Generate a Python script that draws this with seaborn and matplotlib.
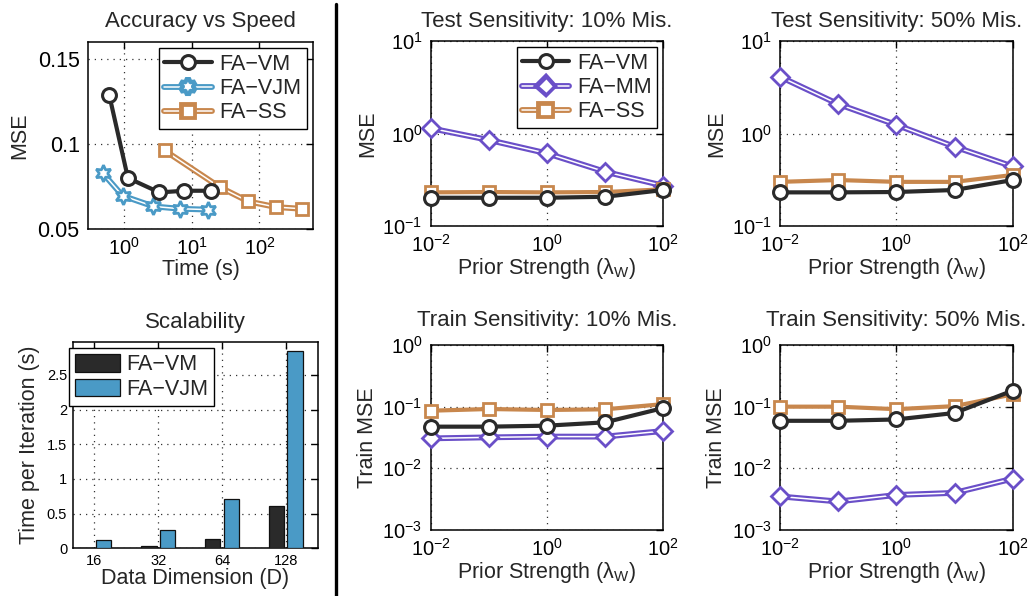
import numpy as np
import pandas as pd
import matplotlib
matplotlib.use("Agg")
import matplotlib.pyplot as plt
import matplotlib.patheffects as pe
from matplotlib.lines import Line2D
from matplotlib.ticker import FixedLocator, NullLocator
import seaborn as sns

# ---------------- data ----------------
# Accuracy vs Speed
time_vm = [0.60, 1.13, 3.3, 7.6, 19.5]
mse_vm = [0.1286, 0.0800, 0.0715, 0.0725, 0.0725]
time_vjm = [0.48, 0.94, 2.7, 6.7, 17.6]
mse_vjm = [0.0829, 0.0696, 0.0633, 0.0619, 0.0614]
time_ss = [3.94, 26.2, 68.6, 176.0, 422.0]
mse_ss = [0.0962, 0.0745, 0.0662, 0.0629, 0.0619]

# Scalability
dims = ["16", "32", "64", "128"]
iter_vm = [0.01, 0.035, 0.13, 0.615]
iter_vjm = [0.12, 0.27, 0.716, 2.846]

# Sensitivity
lam = [0.01, 0.1, 1.0, 10.0, 100.0]
test10_vm = [0.202, 0.202, 0.202, 0.207, 0.245]
test10_mm = [1.14, 0.85, 0.61, 0.386, 0.273]
test10_ss = [0.231, 0.233, 0.231, 0.233, 0.249]
test50_vm = [0.231, 0.231, 0.233, 0.245, 0.314]
test50_mm = [4.11, 2.08, 1.24, 0.72, 0.44]
test50_ss = [0.300, 0.314, 0.300, 0.300, 0.356]
train10_vm = [0.0474, 0.0474, 0.0492, 0.0557, 0.095]
train10_mm = [0.0306, 0.0318, 0.0327, 0.0327, 0.0403]
train10_ss = [0.086, 0.0916, 0.0884, 0.0906, 0.110]
train50_vm = [0.059, 0.059, 0.062, 0.079, 0.182]
train50_mm = [0.0035, 0.0029, 0.0037, 0.0040, 0.0068]
train50_ss = [0.100, 0.100, 0.091, 0.102, 0.158]

C_VM = "#2a2a2a"
C_VJM = "#4a9ac6"
C_SS = "#c8874d"
C_MM = "#6a4fc8"

STY = {
    "FA\u2212VM": dict(color=C_VM, marker="o", ms=10, mew=2.2, lw=3.0, core=False),
    "FA\u2212VJM": dict(color=C_VJM, marker=(6, 1, 0), ms=12, mew=2.0, lw=3.0, core=True),
    "FA\u2212SS": dict(color=C_SS, marker="s", ms=9, mew=2.0, lw=3.0, core=True),
    "FA\u2212MM": dict(color=C_MM, marker="D", ms=9, mew=2.0, lw=3.0, core=True),
}

sns.set_theme(style="white")
plt.rcParams["font.family"] = ["Liberation Sans", "DejaVu Sans"]
plt.rcParams["mathtext.fontset"] = "custom"
plt.rcParams["mathtext.rm"] = "Liberation Sans"
plt.rcParams["mathtext.it"] = "Liberation Sans:italic"
plt.rcParams["mathtext.bf"] = "Liberation Sans:bold"
plt.rcParams["axes.unicode_minus"] = True

W, H = 1032, 596
fig = plt.figure(figsize=(W / 100, H / 100), dpi=100)


def add_ax(l, r, t, b):
    return fig.add_axes([l / W, 1 - b / H, (r - l) / W, (b - t) / H])


def style_ax(ax, tick_fs=14.5):
    for s in ax.spines.values():
        s.set_color("black")
        s.set_linewidth(1.1)
        s.set_visible(True)
    ax.tick_params(which="both", direction="in", top=True, right=True,
                   labelsize=tick_fs, colors="black", length=5, width=1.0, pad=6)
    ax.grid(True, which="major", linestyle=(0, (1, 4)), color="#333333", linewidth=0.9)
    ax.set_facecolor("white")


def draw(ax, x, y, name, core_on=True):
    st = STY[name]
    core = st["core"] and core_on
    if core:
        sns.lineplot(x=x, y=y, ax=ax, color="white", lw=1.1, sort=False,
                     path_effects=[pe.Stroke(linewidth=st["lw"] + 1.2, foreground=st["color"]), pe.Normal()],
                     legend=False, zorder=3)
    sns.lineplot(x=x, y=y, ax=ax, color=st["color"], lw=0 if core else st["lw"], sort=False,
                 marker=st["marker"], markersize=st["ms"], markerfacecolor="white",
                 markeredgecolor=st["color"], markeredgewidth=st["mew"], legend=False, zorder=4)


def handle(name):
    st = STY[name]
    if st["core"]:
        return Line2D([], [], color="white", lw=1.1, marker=st["marker"], ms=st["ms"],
                      mfc="white", mec=st["color"], mew=st["mew"],
                      path_effects=[pe.Stroke(linewidth=st["lw"] + 1.2, foreground=st["color"]), pe.Normal()])
    return Line2D([], [], color=st["color"], lw=st["lw"], marker=st["marker"], ms=st["ms"],
                  mfc="white", mec=st["color"], mew=st["mew"])


def legend(ax, names, fs=15.5):
    leg = ax.legend([handle(n) for n in names], names, loc="upper right", fontsize=fs,
                    frameon=True, fancybox=False, framealpha=1, edgecolor="black",
                    handlelength=2.2, borderpad=0.25, labelspacing=0.15, handletextpad=0.35,
                    borderaxespad=0.3)
    leg.get_frame().set_linewidth(1.0)


LBL = 15.5
TTL = 16

# ---------------- Accuracy vs Speed ----------------
ax = add_ax(88, 313, 42, 229)
draw(ax, time_ss, mse_ss, "FA\u2212SS")
draw(ax, time_vjm, mse_vjm, "FA\u2212VJM")
draw(ax, time_vm, mse_vm, "FA\u2212VM")
ax.set_xscale("log")
ax.set_xlim(0.29, 620)
ax.set_ylim(0.05, 0.16)
ax.xaxis.set_major_locator(FixedLocator([1, 10, 100]))
ax.xaxis.set_minor_locator(NullLocator())
ax.yaxis.set_major_locator(FixedLocator([0.05, 0.1, 0.15]))
ax.set_yticklabels(["0.05", "0.1", "0.15"])
style_ax(ax)
ax.tick_params(axis="y", labelsize=15.5)
ax.set_xlabel("Time (s)", fontsize=LBL, labelpad=0)
ax.set_ylabel("MSE", fontsize=LBL, labelpad=5)
ax.set_title("Accuracy vs Speed", fontsize=TTL, pad=11)
legend(ax, ["FA\u2212VM", "FA\u2212VJM", "FA\u2212SS"])
for line in ax.get_lines():
    line.set_clip_on(False)

# ---------------- Scalability ----------------
ax = add_ax(72.7, 318.3, 341.7, 548.3)
df = pd.DataFrame({
    "D": dims * 2,
    "time": iter_vm + iter_vjm,
    "method": ["FA\u2212VM"] * len(dims) + ["FA\u2212VJM"] * len(dims),
})
sns.barplot(data=df, x="D", y="time", hue="method", palette=[C_VM, C_VJM],
            width=0.58, gap=0.17, saturation=1, edgecolor="#111111", linewidth=0.9,
            ax=ax, zorder=3)
ax.set_xlim(-0.34, 3.51)
ax.set_ylim(0, 2.98)
ax.yaxis.set_major_locator(FixedLocator([0, 0.5, 1, 1.5, 2, 2.5]))
ax.set_yticklabels(["0", "0.5", "1", "1.5", "2", "2.5"])
style_ax(ax, tick_fs=10.5)
ax.tick_params(axis="both", pad=4)
ax.set_axisbelow(True)
ax.set_xlabel("Data Dimension (D)", fontsize=LBL, labelpad=0)
ax.set_ylabel("Time per Iteration (s)", fontsize=LBL, labelpad=5)
ax.set_title("Scalability", fontsize=TTL, pad=10)
h, l = ax.get_legend_handles_labels()
leg = ax.legend(h, l, loc="upper left", fontsize=15.5, frameon=True, fancybox=False,
                framealpha=1, edgecolor="black", handlelength=2.1, handleheight=0.85,
                borderpad=0.3, labelspacing=0.15, handletextpad=0.25,
                borderaxespad=0, bbox_to_anchor=(-0.016, 0.97))
leg.get_frame().set_linewidth(1.0)

# ---------------- Sensitivity panels ----------------
XL = r"Prior Strength ($\mathrm{\lambda_W}$)"
panels = [
    ((430.7, 663.3, 41, 226), "Test Sensitivity: 10% Mis.", "MSE", (0.1, 10),
     test10_vm, test10_mm, test10_ss, True),
    ((780, 1012.7, 41, 226), "Test Sensitivity: 50% Mis.", "MSE", (0.1, 10),
     test50_vm, test50_mm, test50_ss, False),
    ((430.7, 663.3, 345, 530), "Train Sensitivity: 10% Mis.", "Train MSE", (1e-3, 1),
     train10_vm, train10_mm, train10_ss, False),
    ((780, 1012.7, 345, 530), "Train Sensitivity: 50% Mis.", "Train MSE", (1e-3, 1),
     train50_vm, train50_mm, train50_ss, False),
]
for (l, r, t, b), title, ylab, ylim, vm, mm, ss, leg_on in panels:
    ax = add_ax(l, r, t, b)
    draw(ax, lam, mm, "FA\u2212MM")
    draw(ax, lam, ss, "FA\u2212SS", core_on=False)
    draw(ax, lam, vm, "FA\u2212VM")
    ax.set_xscale("log")
    ax.set_yscale("log")
    ax.set_xlim(0.01, 100)
    ax.set_ylim(*ylim)
    ax.xaxis.set_major_locator(FixedLocator([0.01, 1, 100]))
    if ylim[0] < 0.01:
        ax.yaxis.set_major_locator(FixedLocator([1e-3, 1e-2, 1e-1, 1]))
    else:
        ax.yaxis.set_major_locator(FixedLocator([0.1, 1, 10]))
    ax.xaxis.set_minor_locator(NullLocator())
    ax.yaxis.set_minor_locator(NullLocator())
    for line in ax.get_lines():
        line.set_clip_on(False)
    style_ax(ax)
    ax.set_xlabel(XL, fontsize=LBL, labelpad=0)
    ax.set_ylabel(ylab, fontsize=LBL, labelpad=3)
    ax.set_title(title, fontsize=TTL, pad=10 if ylim[0] > 0.01 else 14)
    if leg_on:
        legend(ax, ["FA\u2212VM", "FA\u2212MM", "FA\u2212SS"])

fig.add_artist(Line2D([335.7 / W, 335.7 / W], [0, 1 - 4 / H], transform=fig.transFigure,
                      color="black", lw=2.4))

fig.savefig("out.png", dpi=100, facecolor="white")
